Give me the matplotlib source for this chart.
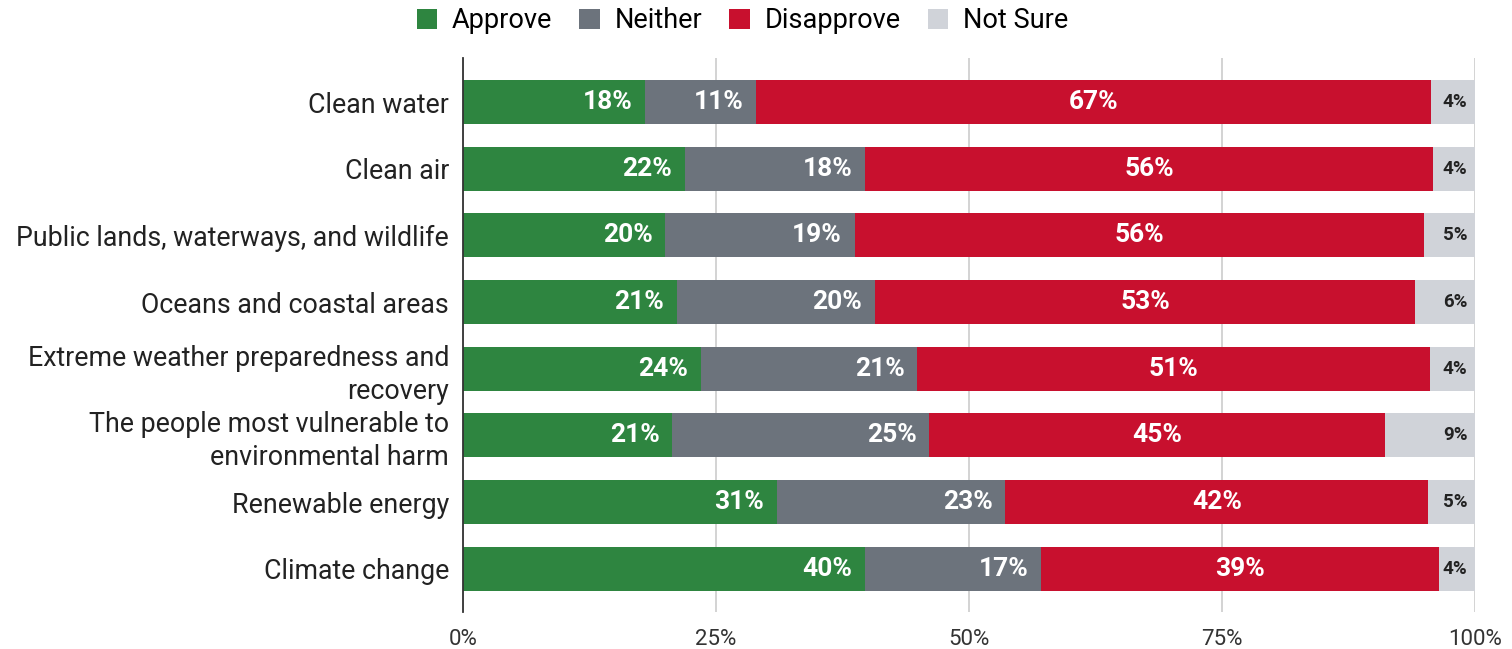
import matplotlib
matplotlib.use("Agg")
import matplotlib.pyplot as plt
from matplotlib.patches import Patch

plt.rcParams['font.family'] = ['Roboto', 'DejaVu Sans']

categories = ["Clean water", "Clean air", "Public lands, waterways, and wildlife",
              "Oceans and coastal areas", "Extreme weather preparedness and\nrecovery",
              "The people most vulnerable to\nenvironmental harm", "Renewable energy",
              "Climate change"]
approve = [18.0, 21.9, 20.0, 21.1, 23.5, 20.7, 31.0, 39.7]
neither = [11.0, 17.8, 18.7, 19.6, 21.4, 25.4, 22.6, 17.4]
disapprove = [66.7, 56.2, 56.3, 53.4, 50.7, 45.0, 41.8, 39.3]
not_sure = [4.3, 4.1, 5.0, 5.9, 4.4, 8.9, 4.6, 3.6]
label_approve = [18, 22, 20, 21, 24, 21, 31, 40]
label_neither = [11, 18, 19, 20, 21, 25, 23, 17]
label_disapprove = [67, 56, 56, 53, 51, 45, 42, 39]
label_not_sure = [4, 4, 5, 6, 4, 9, 5, 4]
series_names = ["Approve", "Neither", "Disapprove", "Not Sure"]
colors = ["#2E8540", "#6C737C", "#C8102E", "#D0D3D9"]
text_colors = ["white", "white", "white", "#222222"]

fig = plt.figure(figsize=(15.12, 6.49), dpi=100)
ax = fig.add_axes([0.3062, 0.057, 0.6693, 0.8536])

y = list(range(len(categories)))
series = [approve, neither, disapprove, not_sure]
labels = [label_approve, label_neither, label_disapprove, label_not_sure]
left = [0.0] * len(categories)
for vals, labs, col, tcol, name in zip(series, labels, colors, text_colors, series_names):
    ax.barh(y, vals, left=left, height=0.66, color=col, label=name, zorder=3)
    for i, (v, l) in enumerate(zip(vals, labs)):
        if name == "Not Sure":
            ax.text(left[i] + v - 0.75, i, f"{l}%", ha="right", va="center",
                    color=tcol, fontsize=13.5, fontweight="bold", zorder=4)
        elif name == "Disapprove":
            ax.text(left[i] + v / 2, i, f"{l}%", ha="center", va="center",
                    color=tcol, fontsize=19, fontweight="bold", zorder=4)
        else:
            ax.text(left[i] + v - 1.25, i, f"{l}%", ha="right", va="center",
                    color=tcol, fontsize=19, fontweight="bold", zorder=4)
    left = [a + b for a, b in zip(left, vals)]

ax.set_xlim(0, 100)
ax.set_ylim(7.65, -0.66)
ax.set_yticks(y)
ax.set_yticklabels(categories, fontsize=19.3, color="#222222", linespacing=1.28)
ax.set_xticks([0, 25, 50, 75, 100])
ax.set_xticklabels(["0%", "25%", "50%", "75%", "100%"], fontsize=16, color="#333333")
ax.tick_params(axis="y", length=0, pad=10)
ax.tick_params(axis="x", length=0, pad=12)
ax.grid(axis="x", color="#CCCCCC", linewidth=1.2, zorder=0)
for s in ["top", "right", "bottom"]:
    ax.spines[s].set_visible(False)
ax.spines["left"].set_color("#333333")
ax.spines["left"].set_linewidth(1.3)
ax.spines["left"].set_zorder(5)

handles = [Patch(facecolor=c, edgecolor="none") for c in colors]
fig.legend(handles, series_names, loc="center", bbox_to_anchor=(0.491, 0.968), ncol=4,
           frameon=False, fontsize=19.5, handlelength=0.75, handleheight=0.75,
           handletextpad=0.55, columnspacing=1.0)

fig.savefig("out.png", dpi=100)
